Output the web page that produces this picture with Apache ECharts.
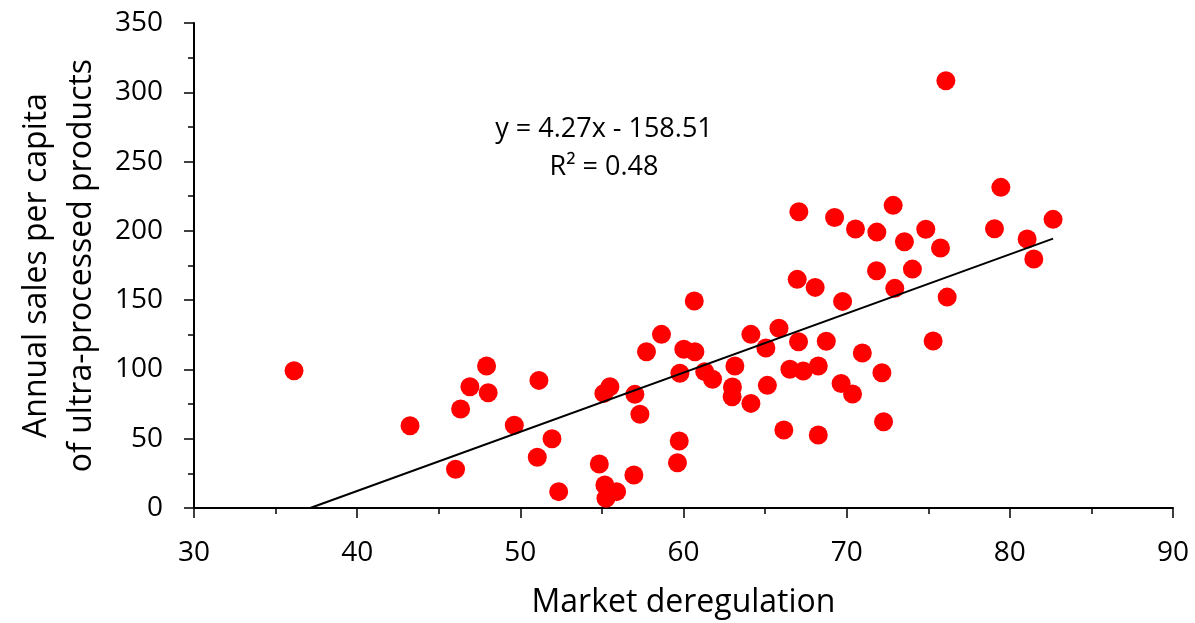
<!DOCTYPE html>
<html>
<head>
<meta charset="utf-8">
<title>Market deregulation vs ultra-processed product sales</title>
<script src="https://cdn.jsdelivr.net/npm/echarts@6/dist/echarts.min.js"></script>
<style>
  html, body { margin: 0; padding: 0; background: #ffffff; }
  #chart { width: 1195px; height: 623px; }
</style>
</head>
<body>
<div id="chart"></div>
<script>
// Market deregulation index (x) for each country
const deregulation = [
  36.13, 43.24, 46.03, 46.34, 46.91, 47.93, 48.03, 49.63, 51.04, 51.14,
  51.94, 52.35, 54.84, 55.12, 55.49, 55.18, 55.25, 55.90, 56.96, 57.02,
  57.33, 57.73, 58.65, 59.63, 59.74, 59.78, 60.02, 60.70, 60.66, 61.30,
  61.78, 62.98, 63.00, 63.15, 64.13, 64.13, 65.05, 65.14, 65.85, 66.15,
  66.52, 66.97, 67.05, 67.07, 67.34, 68.07, 68.26, 68.26, 68.75, 69.26,
  69.66, 69.75, 70.36, 70.54, 70.96, 71.83, 71.85, 72.16, 72.26, 72.85,
  72.95, 73.54, 74.03, 74.85, 75.30, 75.75, 76.08, 76.16, 79.06, 79.45,
  81.06, 81.47, 82.65
];

// Annual sales per capita of ultra-processed products (y) for the same countries
const salesPerCapita = [
  99.1, 59.4, 27.9, 71.4, 87.5, 102.5, 83.2, 59.7, 36.6, 92.1,
  50.0, 11.8, 31.7, 82.7, 87.5, 16.6, 7.0, 11.8, 23.8, 82.0,
  67.6, 112.8, 125.3, 32.7, 48.3, 97.2, 114.5, 112.8, 149.4, 98.4,
  92.9, 80.3, 87.3, 102.5, 125.3, 75.5, 115.5, 88.5, 129.7, 56.3,
  100.1, 165.0, 120.0, 213.8, 98.8, 159.2, 102.5, 52.7, 120.3, 209.7,
  89.9, 149.1, 82.3, 201.3, 111.8, 171.2, 199.1, 97.6, 62.3, 218.4,
  158.5, 192.1, 172.4, 201.1, 120.5, 187.6, 308.3, 152.2, 201.5, 231.4,
  194.1, 179.7, 208.3
];

// Linear trendline fitted to the points
const trendSlope = 4.27;
const trendIntercept = -158.51;
const trendR2 = 0.48;

// Axis ranges
const xTicks = { min: 30, max: 90, step: 10 };
const yTicks = { min: 0, max: 350, step: 50 };

const FONT = '"Open Sans", Lato, sans-serif';

const points = deregulation.map((x, i) => [x, salesPerCapita[i]]);

// Trendline runs over the data range, starting where it crosses zero
const xLo = Math.max(Math.min(...deregulation), -trendIntercept / trendSlope);
const xHi = Math.max(...deregulation);
const trendPoints = [xLo, xHi].map(x => [x, trendSlope * x + trendIntercept]);

const fmt = v => v.toFixed(2);
const eqText = 'y = ' + fmt(trendSlope) + 'x - ' + fmt(Math.abs(trendIntercept));
const r2Text = 'R\u00B2 = ' + fmt(trendR2);

const chart = echarts.init(document.getElementById('chart'), null, { renderer: 'canvas' });

const axisLine = { show: true, lineStyle: { color: '#000', width: 2 } };
const majorTick = { show: true, inside: false, length: 10, lineStyle: { color: '#000', width: 1.5 } };
const minorTick = { show: true, splitNumber: 2, length: 6, lineStyle: { color: '#000', width: 1.5 } };
const tickLabel = { fontFamily: FONT, fontSize: 28, color: '#000' };

chart.setOption({
  animation: false,
  backgroundColor: '#ffffff',
  grid: {
    left: 194, right: 22, top: 23, bottom: 115,
    containLabel: false,
    outerBoundsMode: 'none'
  },
  xAxis: {
    type: 'value',
    min: xTicks.min,
    max: xTicks.max,
    interval: xTicks.step,
    name: 'Market deregulation',
    nameLocation: 'middle',
    nameGap: 79,
    nameTextStyle: { fontFamily: FONT, fontSize: 32, color: '#000' },
    axisLine: axisLine,
    axisTick: majorTick,
    minorTick: minorTick,
    axisLabel: Object.assign({ margin: 31 }, tickLabel),
    splitLine: { show: false },
    minorSplitLine: { show: false }
  },
  yAxis: {
    type: 'value',
    min: yTicks.min,
    max: yTicks.max,
    interval: yTicks.step,
    name: 'Annual sales per capita\nof ultra-processed products',
    nameLocation: 'middle',
    nameGap: 90,
    nameRotate: 90,
    nameTextStyle: { fontFamily: FONT, fontSize: 32, color: '#000', lineHeight: 45 },
    axisLine: axisLine,
    axisTick: majorTick,
    minorTick: minorTick,
    axisLabel: Object.assign({ margin: 31 }, tickLabel),
    splitLine: { show: false },
    minorSplitLine: { show: false }
  },
  series: [
    {
      type: 'scatter',
      data: points,
      symbol: 'circle',
      symbolSize: 19,
      itemStyle: { color: '#ff0000', opacity: 1 },
      z: 2
    },
    {
      type: 'line',
      data: trendPoints,
      symbol: 'none',
      lineStyle: { color: '#000', width: 2 },
      silent: true,
      z: 3
    }
  ],
  graphic: [
    {
      type: 'text',
      x: 604, y: 129,
      style: {
        text: eqText,
        align: 'center',
        verticalAlign: 'middle',
        fontFamily: FONT,
        fontSize: 27,
        fill: '#000'
      }
    },
    {
      type: 'text',
      x: 604, y: 167,
      style: {
        text: r2Text,
        align: 'center',
        verticalAlign: 'middle',
        fontFamily: FONT,
        fontSize: 27,
        fill: '#000'
      }
    }
  ]
});
</script>
</body>
</html>
